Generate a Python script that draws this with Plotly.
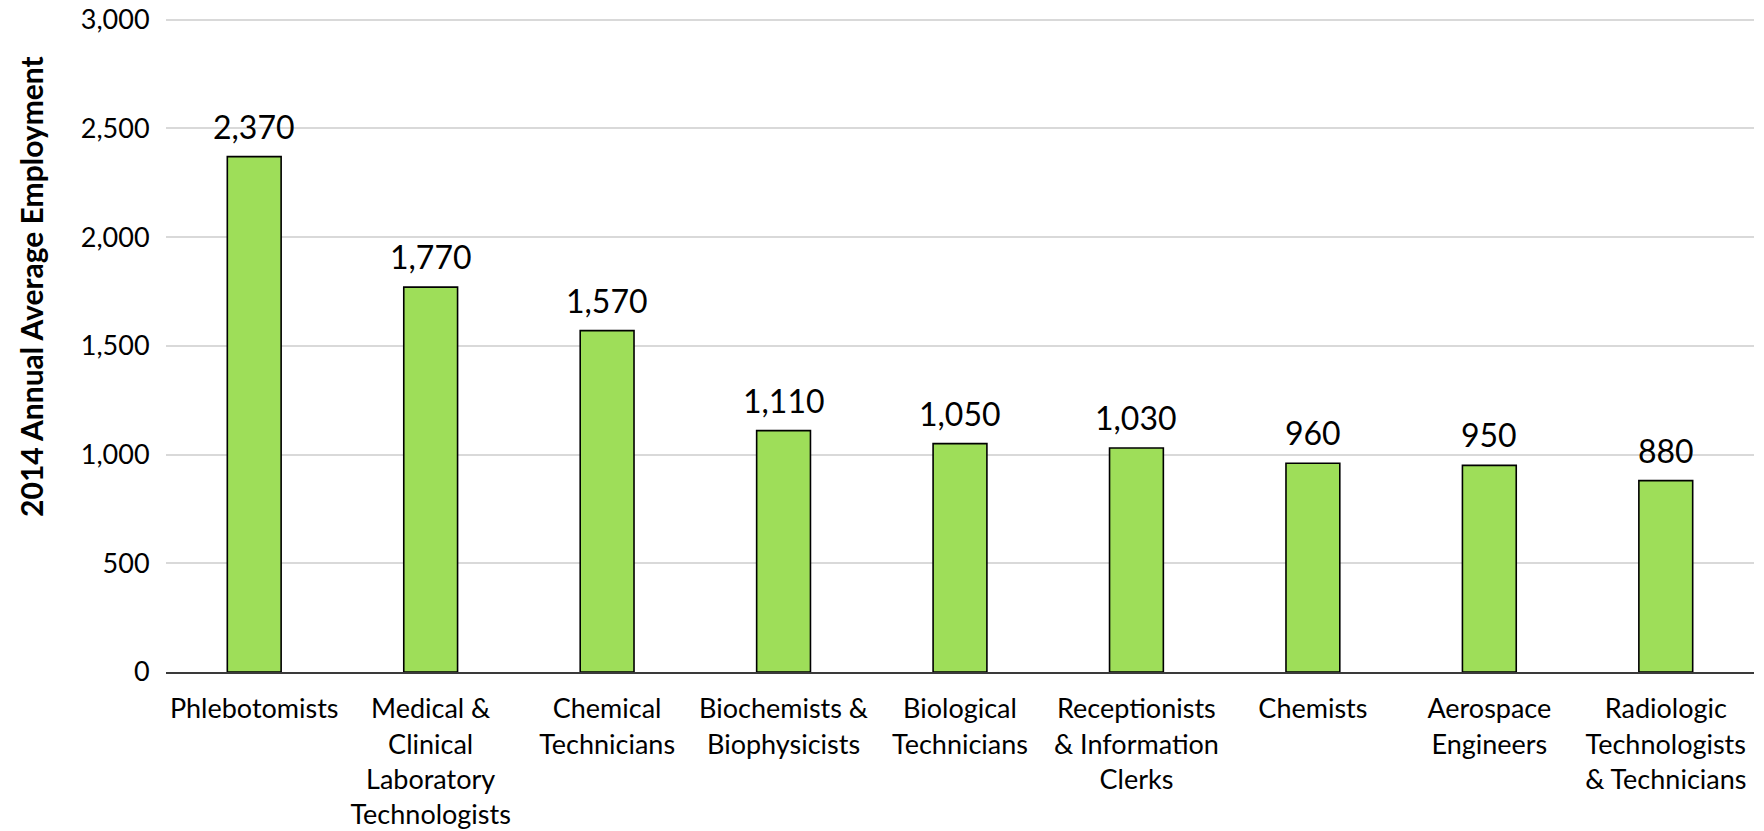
import plotly.graph_objects as go

categories = [
    "Phlebotomists",
    "Medical &<br>Clinical<br>Laboratory<br>Technologists",
    "Chemical<br>Technicians",
    "Biochemists &<br>Biophysicists",
    "Biological<br>Technicians",
    "Receptionists<br>& Information<br>Clerks",
    "Chemists",
    "Aerospace<br>Engineers",
    "Radiologic<br>Technologists<br>& Technicians",
]
values = [2370, 1770, 1570, 1110, 1050, 1030, 960, 950, 880]
y_ticks = [0, 500, 1000, 1500, 2000, 2500, 3000]
y_title = "2014 Annual Average Employment"

FONT = "Lato"

fig = go.Figure()
fig.add_trace(go.Bar(
    x=categories,
    y=values,
    marker=dict(color="#9EDE59", line=dict(color="#000000", width=1.6)),
    width=0.305,
    hoverinfo="skip",
))

for c, v in zip(categories, values):
    fig.add_annotation(
        x=c, y=v, text=f"{v:,}", showarrow=False,
        yanchor="bottom", yshift=9,
        font=dict(family=FONT, size=32, color="#000000"),
    )

fig.add_annotation(
    xref="paper", yref="paper", x=-0.085, y=0.588,
    text=f"<b>{y_title}</b>", textangle=-90, showarrow=False,
    xanchor="center", yanchor="middle",
    font=dict(family=FONT, size=30, color="#000000"),
)

fig.update_layout(
    width=1764, height=831,
    margin=dict(l=166, r=10, t=17, b=159),
    paper_bgcolor="white", plot_bgcolor="white",
    showlegend=False,
    font=dict(family=FONT, size=27, color="#000000"),
)
fig.update_xaxes(
    type="category",
    automargin=False,
    showgrid=False,
    showline=True, linecolor="#3A3A3A", linewidth=2,
    ticks="outside", ticklen=12, tickcolor="rgba(0,0,0,0)",
    tickfont=dict(family=FONT, size=27, color="#000000"),
    tickangle=0,
    ticklabeloverflow="allow",
)
fig.update_yaxes(
    automargin=False,
    range=[0, 3012],
    tickvals=y_ticks,
    ticktext=[f"{t:,}" for t in y_ticks],
    showgrid=True, gridcolor="#D9D9D9", gridwidth=1.5,
    zeroline=False,
    showline=False,
    ticks="outside", ticklen=10, tickcolor="rgba(0,0,0,0)",
    tickfont=dict(family=FONT, size=27, color="#000000"),
    ticklabeloverflow="allow",
)

fig.write_html(
    "out.html",
    config={"displayModeBar": False},
    post_script="document.body.style.margin='0';document.body.style.overflow='hidden';",
)
